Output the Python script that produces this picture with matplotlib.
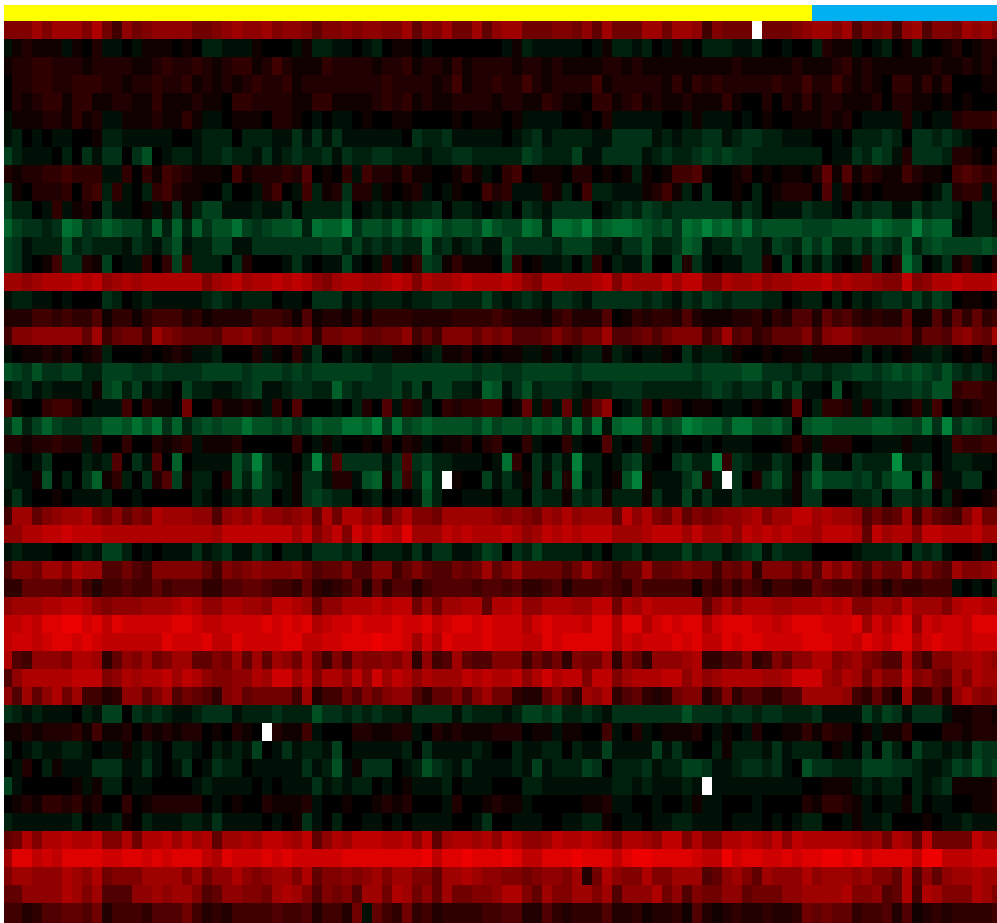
import numpy as np
import matplotlib
matplotlib.use("Agg")
import matplotlib.pyplot as plt
from matplotlib.colors import LinearSegmentedColormap, ListedColormap

# Level codes, 10 cells per group:
# 1-9,A-F = red brightness (x16), a-i = green brightness (x16), 0 = black, X = missing
rows_a = [
"888A8AAA8B 7497899997 789A99A899 8688989988 A698A77A69 AA77788796 A777AA7AA9 48777X7778 9AA8A58784 9A5887A9A8",
"a12111a102 aa0a111010 bbaaa1000a 1bbaa0ab01 10a0000000 a1baaaaa0a 1bbab0a1a0 bbbaab00a0 0b211a0ab0 1b00120122",
"1223322212 2221123223 2123312421 1132222122 3122131222 2122121111 2212111111 1112111112 1112312111 1112112121",
"0223322333 2212232231 2121232231 2222222232 2221241223 2242122224 1222221313 2322222322 4224212103 3131300011",
"0212331331 1221131112 1103322221 1331111232 3121122221 2211321103 3123121121 1131002021 3122111202 2110101000",
"a111221312 aa11121131 aa01110221 0a0aa01001 1000010111 01aaaa0010 2aaaaa00a1 aaa0a01001 112120aaaa 2a0aa23334",
"ab0a0aa001 bbaaaaa00a bbb0bbbaac acacaaaaaa 0cbbcaaaaa 0abcabbbba accccababb ccabccbbaa a00a0bbbcb 0ccbcba000",
"dbaaa0b0ca cc0ce0abba bbcbbacabc bbcacbbccb bbabbccbbb bbdcbbbdaa ccccabcbbc dcdccbbbbb bb0aacbdca 2cccb22102",
"2122334333 aa30314321 1104122232 50103a4221 31100131a0 3401110220 101b101445 1001201011 0261513211 4211045434",
"c102223034 b3a0b34211 00b00a240a 4b12c22a10 12a0a10042 3aaa21b04b baaa1241b0 c0010b0122 205a201011 110ac233a3",
]
rows_b = [
"dbb0a3a120 caa01a1c1b ddaaabaac0 bbbbd0abab abbc0bba0a b0cbacccc0 abcbdcbccc cccacb0aaa cbba0cbcca adbccb0bb1",
"fdccbcgfcd feddbfbfbf ceegdcdeef bgffhceedf dfgfdeedge ddgfbggfhe fggfedecgf hfgegdeeee dddeeeegfe eheffa0bba",
"dcabbbebcb bbacbaceab bddaaccccc ccddbdbcbc bbfbcabcaa eccccbdddb baccebbcfe abbdccadcb ecebbdbdcb fbdedddded",
"dca014cc21 d0aa303d4b bb0c2000ac a0aada0a3a 13dc131110 d301aab0b3 0baad00d2c a0aacc20d0 caca0a3c02 gd0ac13a02",
"AA9ABBBCBC 9ABABBBBBB 8ABCABBCBC B98ABBAABC B8BAABCBBB CB98BBAAAB C8BAAACACC 88BAAB9AAB BBCABAA988 C89BBCBBBC",
"abbaa0a000 cb0abaaaaa bcbabbb0aa 0cccababbb abbccbbbdb abcbaccbac ccccbcbacb dcbcccbb0a bb0b0babcc bdbdc01101",
"2224434335 1331344423 1222244431 5122131333 3222233334 3222134222 5013233252 1112231325 5264532322 6115263634",
"488999996A 46774A8766 6588976887 8377886677 9464888687 8555686577 A556757888 46A5634666 8489976666 736658976A",
"a011212012 b00010121a ab0002a103 ac00ba0aa1 10ab112010 11aa1a0abb 1ba0aa10ca bba1001011 a11110b0a0 1aaba01021",
"edceccddbb dddccdcccc ddddcdddcd cddddddccd dddddddcdd ccdddddcdd dddddddddc ddddeecccb ccbccddcde dedcecbcba",
]
rows_c = [
"abcabaaab1 debdaba0db baabcdaabc cbbfcbcccd bdaddbbafe acebcccbab bcccbbbbbb cdcbccbebd aa0e0abbcc cdcee34433",
"510034420a aa40311070 031121a305 000a0b205a 32b0323344 016a3a6a36 90ab303201 10aa010016 0b332a2ab0 13a4021233",
"cfbdfdccdd ffegegcfbd edeegeedec dfeeggfhcg defeeeedfd eedfefcgcg afggdfdehg ffdggeefd0 effeeeeffe edgchcedca",
"22122322a2 003002123a 1112000003 0a1a001020 21a0112023 003a003a00 5a0a2a0a00 a0aaa00013 1a22200aaa 1aa0a43344",
"ba0ac000ba b50ca50f0a aaaechcaa0 bhb5ccccac 5cdbbaaa0a g30cacahbb 0acda00cdb bh3cbaacb0 aeaa0cbbbi bbc0abbaa0",
"baa1e0b0cf 13b0c25d1b b02ebfcba1 cca22aef1d 4bfbX100da ca1c1d2gab 01eh1aaace 2bXc02ceb1 cfdddcdbdf f0f2aacc00",
"aca0010aaa b00a00000b a0abacc0a1 cdcbb0ab0a 0aeb00aaa0 bb0cbb1cbc 1bbb1caada caacbbbba1 cc000bbc0c cbc0b10012",
"4AA689AAB8 79687BAAA9 959A9B9989 A6B7BB9A69 B887AAAAA9 8987A9B9AA A6C9B87A68 7899AB8AAC CABAA95756 A486548B77",
"99BBCCDCCC BBBBBBBBBB BACCCCCCCA C8AC8DBDCB EAAACBCBBB CB9ACBCBCC CAAABCCCAC AAB9CBCBCB BACCCB6CAB B8CCBBBCAA",
"abaaa00aba ddb0a0aaac abcaacb0bb acccbc0bbb acaccaabdc 0cbdbbbbab 0bbcabbbdb ccabcdacbb b0000abbbc 0cbca001a0",
]
rows_d = [
"5887AA8BAA 5575488888 6487898889 7566855884 68655767A6 8A777757A7 6466A66787 7476838886 85A8A75866 A6865A889A",
"3366665742 4454464555 3355665443 6323462635 5245555455 4533452444 5436444441 4353542443 3654453424 33444a0a0b",
"9AAABBCCB9 8999AAABCB 99BBAA9CCB A699BBBCBC C7A7AABB6B BC99BBBAAC C7BACBBBBB 69B9BBBAAB BBCBC88AA9 CAAA8BCCBB",
"CCDCEEFFDE CEDDDDDEED CCDDDDEDED EBCDDEDDDE DDECDEEDED DDBDEDDDCE EBEEBDEDEE BDEEEDDCDE EEDDDEADBD E9DCDDCEEE",
"CDDCDEEDED CCCCCCEDDD ECCEDDDDEE CCDDEEEFEE DADBEDDDED DDCCEDEEEE EBDCDDDEDE CCEDEEDDDD EEEDDCEDCE EBDEDDCDDD",
"B549998BBA 3698A78AA6 687A6A6A97 B748598898 A3945A6558 8847573877 A3863999AB 3355834869 9BB89A8755 B6488AABA9",
"59BBBBBCCC 89BABBCACB 98899BADDA C8BB9C9DAC B9BAAACBCB BC9BDBCC8C C8ABBBCC9B 9ABBBBAABD DDA9BA7A88 C8976A8BAA",
"95A69B7A44 239968A576 5389677774 A244758689 95366858A7 73226853A9 B356323788 2483553355 AAAA943631 A33639B989",
"cbabaaa0ba dd0cbcbaab cccabbbcbb beccbcbcbb accccacbbb abddcdbbcb acccccccec ccbccbccbb bcaaaadbdc accca11221",
"1121222314 1120212122 010210X211 4a00022112 2a02121112 22011a1100 4a02a01112 0a10a20011 3132201a11 3000221222",
]
rows_e = [
"b0abaabba0 aa1aba0bba 0babad0aca bbad0aaaaa b0caaaaba0 0baabb0baa daaaadaca0 0b1bbbacab bb01a0c0db 0dbbabadcc",
"0a20b1aaac ccaaca0ac0 acbb0aaaaa cabea1ccc0 abecbacaaa abadabbbdc 0bbbcabbdd caabccbca0 eccbbbdddc cbaabdcecd",
"da000001a1 bb0aa0000a baaaa0a0aa acababb0a0 1aaab0aaa0 00bbaaaaaa abbabaaaba Xaaaaaaaaa 00111ababb 0babc11112",
"0121332312 0030122222 0a01002111 2a00100121 2000a20012 11a0000011 2aa00a00a1 aa000a0000 213321a0aa 1b0aa00112",
"baaaaaab0a ab10baaabb acaaaa0a01 ca0b00aa0a 0aaaa00ac0 0aaa00aabb 10aa0aabba aa0aaa0a0a bb00a1aab0 0010aabaaa",
"67B8BBCBBC 88B7BBCACA B6AABACCBA C69BACCCBB C9C6ABBAB9 CB99ACBBCB A8BBA9CC8B 88BBCBAC9C BBBBBA9A7B A6C7777CAA",
"AEECDCEEEE DDEEDEDEEE CBEDDDEDED DDDDEEEEEE EEFCEEFEEE FECCEEEFEE ECEFFEEEED CCFDEEDDED EEFFEFDEEE ECFFCCCDDD",
"8AA999BA9B 7888AAAA8A 799B989AA8 B688989A8A A886AABA99 8878998A27 B988B88AAA 569A86A999 B9AAA9A886 B5969AABAA",
"669999BA8A 55599A9AA8 5699887ABA 858785AA7B A796A77889 BB86A88AA8 A5999B7958 7799677799 AAAAB88956 B4BA888BA8",
"4423556657 2444355574 2324444544 524427a643 7342333344 5522532333 5223122315 2123223223 7676634452 5123233334",
]
group_sizes = [81, 19]          # samples in the yellow and blue groups
group_colors = ["#ffff00", "#00b0f0"]

def decode(ch):
    if ch == "X":
        return np.nan
    if ch in "0123456789ABCDEF":
        return float(int(ch, 16))
    return -float(ord(ch) - ord("a") + 1)

rows = rows_a + rows_b + rows_c + rows_d + rows_e
values = []
for r in rows:
    s = r.replace(" ", "")
    if len(s) != 100:
        print("row length", len(s), s[:20])
    s = (s + s[-1] * 100)[:100]
    values.append([decode(c) for c in s])
values = np.array(values)

cmap = LinearSegmentedColormap.from_list(
    "gkr", [(0.0, (0, 1.0, 0.44)), (0.5, (0, 0, 0)), (1.0, (1.0, 0, 0))], N=513)
cmap.set_bad("white")

W, H = 997, 923
fig = plt.figure(figsize=(W / 100, H / 100), dpi=100, facecolor="white")
ax = fig.add_axes([0, 0, 1, 1])
ax.set_xlim(0, W)
ax.set_ylim(H, 0)
ax.axis("off")

x_edges = np.r_[4, 12 + 10 * np.arange(99), 997]
y_edges = np.r_[21 + 18 * np.arange(50), 923]
ax.pcolormesh(x_edges, y_edges, np.ma.masked_invalid(values), cmap=cmap,
              vmin=-16, vmax=16, antialiased=False, linewidth=0, rasterized=True)

groups = np.repeat(np.arange(len(group_sizes)), group_sizes)[None, :]
ax.pcolormesh(x_edges, [5, 21], groups, cmap=ListedColormap(group_colors),
              vmin=0, vmax=1, antialiased=False, linewidth=0)

fig.savefig("out.png", dpi=100, facecolor="white")
